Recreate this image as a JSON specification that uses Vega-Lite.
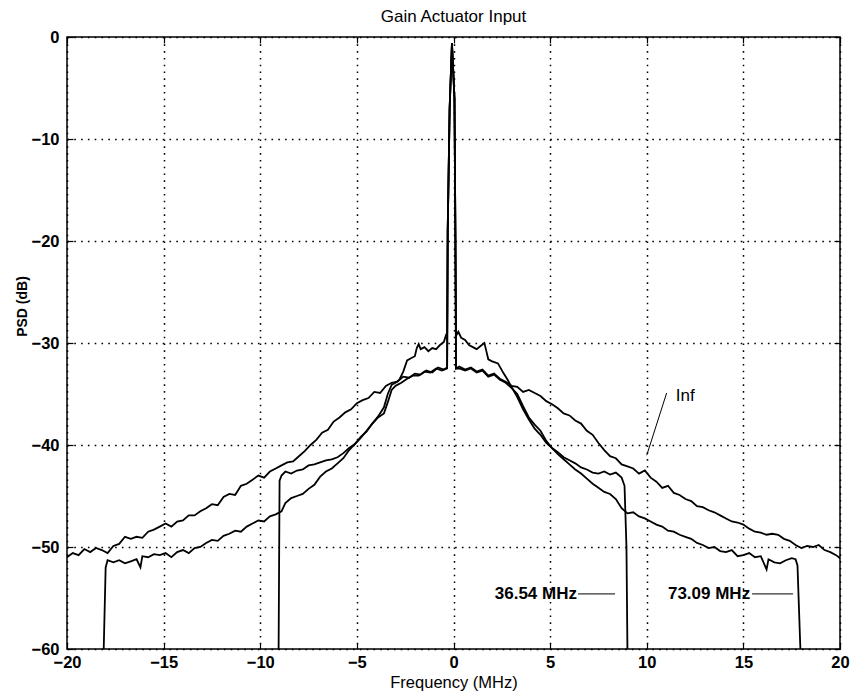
{
  "$schema": "https://vega.github.io/schema/vega-lite/v6.json",
  "autosize": "none",
  "width": 773,
  "height": 612,
  "padding": {"left": 67, "top": 37, "right": 11, "bottom": 43},
  "background": "white",
  "config": {
    "view": {"stroke": "black", "strokeWidth": 1.5},
    "font": "Liberation Sans",
    "axis": {
      "domain": false,
      "tickColor": "black",
      "tickSize": -6,
      "tickWidth": 1.2,
      "grid": true,
      "gridColor": "black",
      "gridDash": [1.6, 5.2],
      "gridWidth": 1.5,
      "gridOpacity": 1,
      "labelFlush": false,
      "labelColor": "black",
      "labelFont": "Liberation Sans",
      "labelFontSize": 16.5,
      "labelFontWeight": "bold",
      "titleColor": "black",
      "titleFont": "Liberation Sans",
      "titleFontSize": 16.5,
      "titleFontWeight": "normal"
    },
    "title": {"font": "Liberation Sans", "fontSize": 17, "fontWeight": "normal", "color": "black"}
  },
  "title": {"text": "Gain Actuator Input", "anchor": "middle", "offset": 3},
  "datasets": {
    "curves": [
      {"s":"inf","f":-20,"db":-51.0},{"s":"inf","f":-19.7,"db":-50.6},{"s":"inf","f":-19.4,"db":-50.8},{"s":"inf","f":-19.1,"db":-50.2},{"s":"inf","f":-18.8,"db":-50.5},{"s":"inf","f":-18.5,"db":-50.1},{"s":"inf","f":-18.2,"db":-50.3},{"s":"inf","f":-17.9,"db":-50.6},{"s":"inf","f":-17.6,"db":-49.9},{"s":"inf","f":-17.3,"db":-49.7},{"s":"inf","f":-17.0,"db":-49.0},{"s":"inf","f":-16.7,"db":-49.2},{"s":"inf","f":-16.4,"db":-49.0},{"s":"inf","f":-16.1,"db":-49.1},{"s":"inf","f":-15.8,"db":-48.5},{"s":"inf","f":-15.5,"db":-48.3},{"s":"inf","f":-15.2,"db":-48.0},{"s":"inf","f":-14.9,"db":-47.7},{"s":"inf","f":-14.6,"db":-48.0},{"s":"inf","f":-14.3,"db":-47.5},{"s":"inf","f":-14.0,"db":-47.4},{"s":"inf","f":-13.7,"db":-46.9},{"s":"inf","f":-13.4,"db":-46.9},{"s":"inf","f":-13.1,"db":-46.5},{"s":"inf","f":-12.8,"db":-46.2},{"s":"inf","f":-12.5,"db":-45.8},{"s":"inf","f":-12.2,"db":-45.9},{"s":"inf","f":-11.9,"db":-45.1},{"s":"inf","f":-11.6,"db":-44.8},{"s":"inf","f":-11.3,"db":-44.9},{"s":"inf","f":-11.0,"db":-44.0},{"s":"inf","f":-10.7,"db":-43.8},{"s":"inf","f":-10.4,"db":-43.4},{"s":"inf","f":-10.1,"db":-43.0},{"s":"inf","f":-9.8,"db":-43.2},{"s":"inf","f":-9.5,"db":-42.6},{"s":"inf","f":-9.2,"db":-42.3},{"s":"inf","f":-8.9,"db":-42.0},{"s":"inf","f":-8.6,"db":-41.7},{"s":"inf","f":-8.3,"db":-41.6},{"s":"inf","f":-8.0,"db":-41.1},{"s":"inf","f":-7.7,"db":-40.6},{"s":"inf","f":-7.4,"db":-40.0},{"s":"inf","f":-7.1,"db":-39.5},{"s":"inf","f":-6.8,"db":-38.8},{"s":"inf","f":-6.5,"db":-38.5},{"s":"inf","f":-6.2,"db":-37.7},{"s":"inf","f":-5.9,"db":-37.3},{"s":"inf","f":-5.6,"db":-36.8},{"s":"inf","f":-5.3,"db":-36.5},{"s":"inf","f":-5.0,"db":-35.9},{"s":"inf","f":-4.7,"db":-35.6},{"s":"inf","f":-4.4,"db":-35.4},{"s":"inf","f":-4.1,"db":-34.8},{"s":"inf","f":-3.8,"db":-34.9},{"s":"inf","f":-3.5,"db":-34.2},{"s":"inf","f":-3.2,"db":-33.9},{"s":"inf","f":-2.9,"db":-33.8},{"s":"inf","f":-2.6,"db":-33.3},{"s":"inf","f":-2.3,"db":-33.4},{"s":"inf","f":-2.0,"db":-33.0},{"s":"inf","f":-1.7,"db":-33.1},{"s":"inf","f":-1.4,"db":-32.7},{"s":"inf","f":-1.1,"db":-32.9},{"s":"inf","f":-0.8,"db":-32.4},{"s":"inf","f":-0.5,"db":-32.6},{"s":"inf","f":-0.33,"db":-32.4},{"s":"inf","f":-0.3,"db":-19},{"s":"inf","f":-0.2,"db":-7},{"s":"inf","f":-0.08,"db":-0.6},{"s":"inf","f":0.05,"db":-6},{"s":"inf","f":0.1,"db":-20},{"s":"inf","f":0.13,"db":-32.5},{"s":"inf","f":0.3,"db":-32.3},{"s":"inf","f":0.6,"db":-32.6},{"s":"inf","f":0.9,"db":-32.4},{"s":"inf","f":1.2,"db":-32.8},{"s":"inf","f":1.5,"db":-32.6},{"s":"inf","f":1.8,"db":-33.2},{"s":"inf","f":2.1,"db":-33.0},{"s":"inf","f":2.4,"db":-33.5},{"s":"inf","f":2.7,"db":-33.8},{"s":"inf","f":3.0,"db":-34.2},{"s":"inf","f":3.3,"db":-34.3},{"s":"inf","f":3.6,"db":-34.8},{"s":"inf","f":3.9,"db":-34.6},{"s":"inf","f":4.2,"db":-34.9},{"s":"inf","f":4.5,"db":-35.2},{"s":"inf","f":4.8,"db":-35.7},{"s":"inf","f":5.1,"db":-36.0},{"s":"inf","f":5.4,"db":-36.4},{"s":"inf","f":5.7,"db":-36.9},{"s":"inf","f":6.0,"db":-37.1},{"s":"inf","f":6.3,"db":-37.6},{"s":"inf","f":6.6,"db":-37.9},{"s":"inf","f":6.9,"db":-38.6},{"s":"inf","f":7.2,"db":-39.0},{"s":"inf","f":7.5,"db":-39.8},{"s":"inf","f":7.8,"db":-40.5},{"s":"inf","f":8.1,"db":-41.1},{"s":"inf","f":8.4,"db":-41.3},{"s":"inf","f":8.7,"db":-41.9},{"s":"inf","f":9.0,"db":-42.1},{"s":"inf","f":9.3,"db":-42.3},{"s":"inf","f":9.6,"db":-42.8},{"s":"inf","f":9.9,"db":-42.5},{"s":"inf","f":10.2,"db":-43.2},{"s":"inf","f":10.5,"db":-43.6},{"s":"inf","f":10.8,"db":-44.2},{"s":"inf","f":11.1,"db":-44.0},{"s":"inf","f":11.4,"db":-44.7},{"s":"inf","f":11.7,"db":-44.9},{"s":"inf","f":12.0,"db":-45.3},{"s":"inf","f":12.3,"db":-45.5},{"s":"inf","f":12.6,"db":-46.0},{"s":"inf","f":12.9,"db":-46.1},{"s":"inf","f":13.2,"db":-46.4},{"s":"inf","f":13.5,"db":-46.6},{"s":"inf","f":13.8,"db":-46.9},{"s":"inf","f":14.1,"db":-47.2},{"s":"inf","f":14.4,"db":-47.5},{"s":"inf","f":14.7,"db":-47.6},{"s":"inf","f":15.0,"db":-47.8},{"s":"inf","f":15.3,"db":-48.2},{"s":"inf","f":15.6,"db":-48.5},{"s":"inf","f":15.9,"db":-48.6},{"s":"inf","f":16.2,"db":-48.8},{"s":"inf","f":16.5,"db":-48.7},{"s":"inf","f":16.8,"db":-48.8},{"s":"inf","f":17.1,"db":-49.2},{"s":"inf","f":17.4,"db":-49.4},{"s":"inf","f":17.7,"db":-49.8},{"s":"inf","f":18.0,"db":-50.1},{"s":"inf","f":18.3,"db":-49.9},{"s":"inf","f":18.6,"db":-50.0},{"s":"inf","f":18.9,"db":-49.8},{"s":"inf","f":19.2,"db":-50.3},{"s":"inf","f":19.5,"db":-50.5},{"s":"inf","f":19.8,"db":-50.8},{"s":"inf","f":20.0,"db":-51.1},

      {"s":"m36","f":-9.05,"db":-60},{"s":"m36","f":-9.0,"db":-43.5},{"s":"m36","f":-8.9,"db":-43.0},{"s":"m36","f":-8.7,"db":-42.6},{"s":"m36","f":-8.4,"db":-42.8},{"s":"m36","f":-8.1,"db":-42.5},{"s":"m36","f":-7.8,"db":-42.4},{"s":"m36","f":-7.5,"db":-42.0},{"s":"m36","f":-7.2,"db":-41.9},{"s":"m36","f":-6.9,"db":-41.7},{"s":"m36","f":-6.6,"db":-41.5},{"s":"m36","f":-6.3,"db":-41.4},{"s":"m36","f":-6.0,"db":-41.2},{"s":"m36","f":-5.7,"db":-40.8},{"s":"m36","f":-5.4,"db":-40.3},{"s":"m36","f":-5.1,"db":-39.9},{"s":"m36","f":-4.8,"db":-39.3},{"s":"m36","f":-4.5,"db":-38.6},{"s":"m36","f":-4.2,"db":-37.9},{"s":"m36","f":-3.9,"db":-37.2},{"s":"m36","f":-3.6,"db":-36.3},{"s":"m36","f":-3.4,"db":-35.0},{"s":"m36","f":-3.2,"db":-34.1},{"s":"m36","f":-3.0,"db":-33.9},{"s":"m36","f":-2.8,"db":-33.6},{"s":"m36","f":-2.6,"db":-32.8},{"s":"m36","f":-2.4,"db":-31.7},{"s":"m36","f":-2.2,"db":-31.5},{"s":"m36","f":-2.0,"db":-31.3},{"s":"m36","f":-1.9,"db":-30.5},{"s":"m36","f":-1.8,"db":-30.1},{"s":"m36","f":-1.7,"db":-30.6},{"s":"m36","f":-1.5,"db":-30.4},{"s":"m36","f":-1.3,"db":-30.8},{"s":"m36","f":-1.1,"db":-30.5},{"s":"m36","f":-0.9,"db":-30.6},{"s":"m36","f":-0.7,"db":-30.2},{"s":"m36","f":-0.5,"db":-29.9},{"s":"m36","f":-0.4,"db":-29.3},{"s":"m36","f":-0.33,"db":-29.6},{"s":"m36","f":-0.3,"db":-19},{"s":"m36","f":-0.2,"db":-7},{"s":"m36","f":-0.08,"db":-0.6},{"s":"m36","f":0.05,"db":-6},{"s":"m36","f":0.1,"db":-20},{"s":"m36","f":0.13,"db":-29.3},{"s":"m36","f":0.25,"db":-28.9},{"s":"m36","f":0.4,"db":-29.5},{"s":"m36","f":0.6,"db":-29.7},{"s":"m36","f":0.8,"db":-30.2},{"s":"m36","f":1.0,"db":-30.4},{"s":"m36","f":1.2,"db":-30.6},{"s":"m36","f":1.4,"db":-30.3},{"s":"m36","f":1.6,"db":-30.0},{"s":"m36","f":1.7,"db":-30.8},{"s":"m36","f":1.8,"db":-31.6},{"s":"m36","f":2.0,"db":-31.8},{"s":"m36","f":2.3,"db":-32.0},{"s":"m36","f":2.6,"db":-33.0},{"s":"m36","f":2.8,"db":-33.6},{"s":"m36","f":3.0,"db":-34.3},{"s":"m36","f":3.3,"db":-35.3},{"s":"m36","f":3.6,"db":-36.5},{"s":"m36","f":3.9,"db":-37.5},{"s":"m36","f":4.2,"db":-38.4},{"s":"m36","f":4.5,"db":-39.0},{"s":"m36","f":4.8,"db":-39.8},{"s":"m36","f":5.1,"db":-40.3},{"s":"m36","f":5.4,"db":-40.7},{"s":"m36","f":5.7,"db":-41.2},{"s":"m36","f":6.0,"db":-41.5},{"s":"m36","f":6.3,"db":-41.8},{"s":"m36","f":6.6,"db":-42.2},{"s":"m36","f":6.9,"db":-42.4},{"s":"m36","f":7.2,"db":-42.7},{"s":"m36","f":7.5,"db":-42.8},{"s":"m36","f":7.8,"db":-42.6},{"s":"m36","f":8.1,"db":-42.9},{"s":"m36","f":8.4,"db":-42.7},{"s":"m36","f":8.7,"db":-43.2},{"s":"m36","f":8.85,"db":-44.0},{"s":"m36","f":8.95,"db":-50},{"s":"m36","f":9.0,"db":-60},

      {"s":"m73","f":-18.1,"db":-60},{"s":"m73","f":-18.0,"db":-52},{"s":"m73","f":-17.9,"db":-51.3},{"s":"m73","f":-17.6,"db":-51.5},{"s":"m73","f":-17.3,"db":-51.3},{"s":"m73","f":-17.0,"db":-51.6},{"s":"m73","f":-16.7,"db":-51.4},{"s":"m73","f":-16.4,"db":-51.2},{"s":"m73","f":-16.2,"db":-52.0},{"s":"m73","f":-16.1,"db":-50.9},{"s":"m73","f":-15.8,"db":-51.0},{"s":"m73","f":-15.5,"db":-50.7},{"s":"m73","f":-15.2,"db":-50.8},{"s":"m73","f":-14.9,"db":-50.6},{"s":"m73","f":-14.6,"db":-51.0},{"s":"m73","f":-14.3,"db":-50.5},{"s":"m73","f":-14.0,"db":-50.3},{"s":"m73","f":-13.7,"db":-50.6},{"s":"m73","f":-13.4,"db":-50.1},{"s":"m73","f":-13.1,"db":-50.0},{"s":"m73","f":-12.8,"db":-49.6},{"s":"m73","f":-12.5,"db":-49.3},{"s":"m73","f":-12.2,"db":-49.4},{"s":"m73","f":-11.9,"db":-48.9},{"s":"m73","f":-11.6,"db":-48.7},{"s":"m73","f":-11.3,"db":-48.4},{"s":"m73","f":-11.0,"db":-48.5},{"s":"m73","f":-10.7,"db":-48.0},{"s":"m73","f":-10.4,"db":-47.7},{"s":"m73","f":-10.1,"db":-47.4},{"s":"m73","f":-9.8,"db":-47.5},{"s":"m73","f":-9.5,"db":-47.0},{"s":"m73","f":-9.2,"db":-46.8},{"s":"m73","f":-8.9,"db":-46.5},{"s":"m73","f":-8.7,"db":-45.7},{"s":"m73","f":-8.4,"db":-45.2},{"s":"m73","f":-8.1,"db":-45.0},{"s":"m73","f":-7.8,"db":-44.8},{"s":"m73","f":-7.5,"db":-44.3},{"s":"m73","f":-7.2,"db":-43.9},{"s":"m73","f":-6.9,"db":-43.1},{"s":"m73","f":-6.6,"db":-42.6},{"s":"m73","f":-6.3,"db":-42.3},{"s":"m73","f":-6.0,"db":-41.8},{"s":"m73","f":-5.7,"db":-41.3},{"s":"m73","f":-5.4,"db":-40.5},{"s":"m73","f":-5.1,"db":-39.9},{"s":"m73","f":-4.8,"db":-39.2},{"s":"m73","f":-4.5,"db":-38.7},{"s":"m73","f":-4.2,"db":-37.9},{"s":"m73","f":-3.9,"db":-37.3},{"s":"m73","f":-3.6,"db":-36.9},{"s":"m73","f":-3.4,"db":-35.8},{"s":"m73","f":-3.2,"db":-34.6},{"s":"m73","f":-3.0,"db":-34.2},{"s":"m73","f":-2.7,"db":-33.9},{"s":"m73","f":-2.4,"db":-33.5},{"s":"m73","f":-2.1,"db":-33.2},{"s":"m73","f":-1.8,"db":-33.2},{"s":"m73","f":-1.5,"db":-32.8},{"s":"m73","f":-1.2,"db":-32.9},{"s":"m73","f":-0.9,"db":-32.5},{"s":"m73","f":-0.6,"db":-32.7},{"s":"m73","f":-0.33,"db":-32.5},{"s":"m73","f":-0.3,"db":-19},{"s":"m73","f":-0.2,"db":-7},{"s":"m73","f":-0.08,"db":-0.6},{"s":"m73","f":0.05,"db":-6},{"s":"m73","f":0.1,"db":-20},{"s":"m73","f":0.13,"db":-32.5},{"s":"m73","f":0.3,"db":-32.5},{"s":"m73","f":0.6,"db":-32.7},{"s":"m73","f":0.9,"db":-32.5},{"s":"m73","f":1.2,"db":-32.9},{"s":"m73","f":1.5,"db":-32.7},{"s":"m73","f":1.8,"db":-33.3},{"s":"m73","f":2.1,"db":-33.1},{"s":"m73","f":2.4,"db":-33.6},{"s":"m73","f":2.7,"db":-33.9},{"s":"m73","f":3.0,"db":-34.4},{"s":"m73","f":3.3,"db":-35.0},{"s":"m73","f":3.6,"db":-36.2},{"s":"m73","f":3.9,"db":-37.3},{"s":"m73","f":4.2,"db":-38.0},{"s":"m73","f":4.5,"db":-38.6},{"s":"m73","f":4.8,"db":-39.6},{"s":"m73","f":5.1,"db":-40.3},{"s":"m73","f":5.4,"db":-40.9},{"s":"m73","f":5.7,"db":-41.4},{"s":"m73","f":6.0,"db":-41.9},{"s":"m73","f":6.3,"db":-42.4},{"s":"m73","f":6.6,"db":-42.8},{"s":"m73","f":6.9,"db":-43.3},{"s":"m73","f":7.2,"db":-43.8},{"s":"m73","f":7.5,"db":-44.2},{"s":"m73","f":7.8,"db":-44.6},{"s":"m73","f":8.1,"db":-44.8},{"s":"m73","f":8.4,"db":-45.3},{"s":"m73","f":8.7,"db":-46.2},{"s":"m73","f":9.0,"db":-46.7},{"s":"m73","f":9.3,"db":-46.6},{"s":"m73","f":9.6,"db":-47.0},{"s":"m73","f":9.9,"db":-47.2},{"s":"m73","f":10.2,"db":-47.5},{"s":"m73","f":10.5,"db":-47.8},{"s":"m73","f":10.8,"db":-48.0},{"s":"m73","f":11.1,"db":-48.4},{"s":"m73","f":11.4,"db":-48.5},{"s":"m73","f":11.7,"db":-48.8},{"s":"m73","f":12.0,"db":-49.0},{"s":"m73","f":12.3,"db":-49.2},{"s":"m73","f":12.6,"db":-49.6},{"s":"m73","f":12.9,"db":-49.8},{"s":"m73","f":13.2,"db":-50.1},{"s":"m73","f":13.5,"db":-50.0},{"s":"m73","f":13.8,"db":-50.4},{"s":"m73","f":14.1,"db":-50.5},{"s":"m73","f":14.4,"db":-50.3},{"s":"m73","f":14.7,"db":-50.9},{"s":"m73","f":15.0,"db":-50.8},{"s":"m73","f":15.3,"db":-50.6},{"s":"m73","f":15.6,"db":-51.0},{"s":"m73","f":15.9,"db":-50.9},{"s":"m73","f":16.2,"db":-52.2},{"s":"m73","f":16.3,"db":-51.2},{"s":"m73","f":16.6,"db":-51.5},{"s":"m73","f":16.9,"db":-51.6},{"s":"m73","f":17.2,"db":-51.3},{"s":"m73","f":17.5,"db":-51.1},{"s":"m73","f":17.7,"db":-51.2},{"s":"m73","f":17.8,"db":-51.8},{"s":"m73","f":17.95,"db":-60}
    ],
    "leaders": [
      {"f":6.44,"f2":8.36,"db":-54.6,"db2":-54.6},
      {"f":15.45,"f2":17.57,"db":-54.6,"db2":-54.6},
      {"f":10.0,"f2":11.03,"db":-41.0,"db2":-34.9}
    ],
    "labels": [
      {"f":6.39,"db":-54.6,"t":"36.54 MHz","a":"right"},
      {"f":15.35,"db":-54.6,"t":"73.09 MHz","a":"right"},
      {"f":11.5,"db":-35.2,"t":"Inf","a":"left"}
    ]
  },
  "resolve": {"axis": {"x": "independent", "y": "independent"}},
  "layer": [
    {
      "data": {"name": "curves"},
      "mark": {"type": "line", "color": "black", "strokeWidth": 1.8, "clip": true},
      "encoding": {
        "x": {"field": "f", "type": "quantitative",
              "scale": {"domain": [-20, 20], "nice": false, "zero": false},
              "axis": {"orient": "bottom", "values": [-20,-15,-10,-5,0,5,10,15,20], "title": "Frequency (MHz)", "labelPadding": 11, "titlePadding": 4}},
        "y": {"field": "db", "type": "quantitative",
              "scale": {"domain": [-60, 0], "nice": false, "zero": false},
              "axis": {"orient": "left", "values": [-60,-50,-40,-30,-20,-10,0], "title": "PSD  (dB)", "titleFontSize": 14, "titleFontWeight": "bold", "titleColor": "black", "labelPadding": 14, "titlePadding": 2, "titleY": 269}},
        "detail": {"field": "s"}
      }
    },
    {
      "data": {"name": "leaders"},
      "mark": {"type": "rule", "color": "black", "strokeWidth": 1},
      "encoding": {
        "x": {"field": "f", "type": "quantitative", "scale": {"domain": [-20, 20], "nice": false, "zero": false},
              "axis": {"orient": "top", "values": [-20,-15,-10,-5,0,5,10,15,20], "labels": false, "grid": false, "title": null}},
        "x2": {"field": "f2"},
        "y": {"field": "db", "type": "quantitative", "scale": {"domain": [-60, 0], "nice": false, "zero": false},
              "axis": {"orient": "right", "values": [-60,-50,-40,-30,-20,-10,0], "labels": false, "grid": false, "title": null}},
        "y2": {"field": "db2"}
      }
    },
    {
      "data": {"name": "labels"},
      "transform": [{"filter": "datum.a === 'right'"}],
      "mark": {"type": "text", "color": "black", "font": "Liberation Sans", "fontSize": 17, "fontWeight": "bold", "baseline": "middle", "align": "right"},
      "encoding": {
        "x": {"field": "f", "type": "quantitative", "scale": {"domain": [-20, 20], "nice": false, "zero": false}, "axis": null},
        "y": {"field": "db", "type": "quantitative", "scale": {"domain": [-60, 0], "nice": false, "zero": false}, "axis": null},
        "text": {"field": "t"}
      }
    },
    {
      "data": {"name": "labels"},
      "transform": [{"filter": "datum.a === 'left'"}],
      "mark": {"type": "text", "color": "black", "font": "Liberation Sans", "fontSize": 17, "fontWeight": "normal", "baseline": "middle", "align": "left"},
      "encoding": {
        "x": {"field": "f", "type": "quantitative", "scale": {"domain": [-20, 20], "nice": false, "zero": false}, "axis": null},
        "y": {"field": "db", "type": "quantitative", "scale": {"domain": [-60, 0], "nice": false, "zero": false}, "axis": null},
        "text": {"field": "t"}
      }
    }
  ]
}
